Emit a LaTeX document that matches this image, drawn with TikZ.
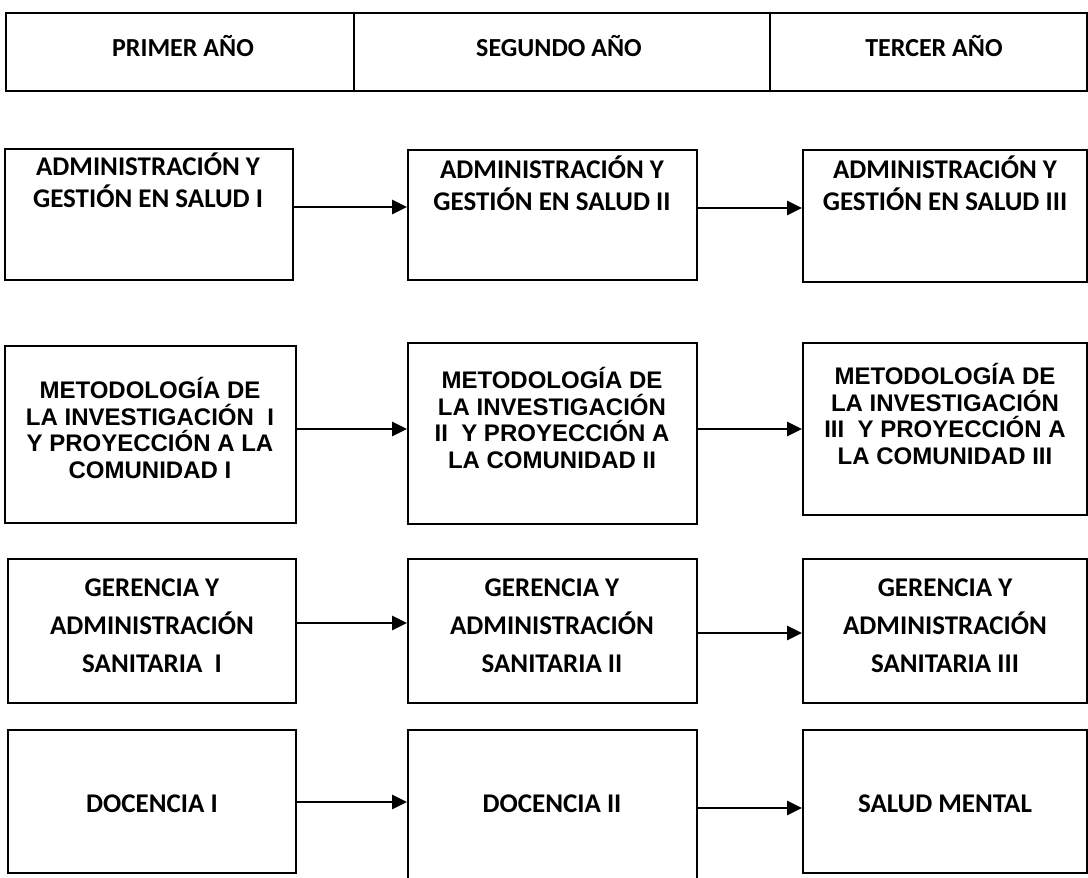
\documentclass[tikz,border=0pt]{standalone}
\usepackage{fontspec}
\newfontfamily\calfont{Carlito}
\newfontfamily\arfont{Liberation Sans}
\usetikzlibrary{arrows.meta}
\tikzset{
  box/.style={draw, line width=1.8pt, rectangle, inner sep=0pt},
  hbox/.style={draw, line width=2.4pt, rectangle, inner sep=0pt},
  htext/.style={inner sep=0pt, font=\calfont\bfseries\fontsize{26}{30}\selectfont},
  ctxtA/.style={inner sep=0pt, align=center, font=\calfont\bfseries\fontsize{27}{32}\selectfont},
  ctxtB/.style={inner sep=0pt, align=center, font=\calfont\bfseries\fontsize{27}{38}\selectfont},
  atxt/.style={inner sep=0pt, align=center, font=\arfont\bfseries\fontsize{24}{26.7}\selectfont},
  arr/.style={line width=2.4pt, -{Triangle[length=15pt,width=14pt]}}
}
\begin{document}
\begin{tikzpicture}[x=1pt,y=-1pt]
\useasboundingbox[fill=white] (0,0) rectangle (1088,878);
% header table
\node[hbox, minimum width=1081pt, minimum height=78pt] (hdr) at (546.5,52) {};
\draw[line width=1.8pt] (hdr.north -| 354,0) -- (hdr.south -| 354,0);
\draw[line width=1.8pt] (hdr.north -| 770,0) -- (hdr.south -| 770,0);
\node[htext] (h1) at (183,46) {PRIMER AÑO};
\node[htext] (h2) at (559,46) {SEGUNDO AÑO};
\node[htext] (h3) at (934,46) {TERCER AÑO};
% row 1
\node[box, minimum width=288pt, minimum height=131pt] (b11) at (149,214.5) {};
\node[box, minimum width=289pt, minimum height=130pt] (b12) at (552.5,215) {};
\node[box, minimum width=284pt, minimum height=132pt] (b13) at (945,216) {};
\node[ctxtA] (t11) at (148,180) {ADMINISTRACIÓN Y\\GESTIÓN EN SALUD I};
\node[ctxtA] (t12) at (552,183) {ADMINISTRACIÓN Y\\GESTIÓN EN SALUD II};
\node[ctxtA] (t13) at (945,183) {ADMINISTRACIÓN Y\\GESTIÓN EN SALUD III};
\draw[arr] (b11.east |- 0,207) -- (b12.west |- 0,207);
\draw[arr] (b12.east |- 0,208) -- (b13.west |- 0,208);
% row 2
\node[box, minimum width=291pt, minimum height=177pt] (b21) at (150.5,434.5) {};
\node[box, minimum width=289pt, minimum height=181pt] (b22) at (552.5,433.5) {};
\node[box, minimum width=284pt, minimum height=172pt] (b23) at (945,429) {};
\node[atxt] (t21) at (150,428) {METODOLOGÍA DE\\LA INVESTIGACIÓN\ \ I\\Y PROYECCIÓN A LA\\COMUNIDAD I};
\node[atxt] (t22) at (552,418) {METODOLOGÍA DE\\LA INVESTIGACIÓN\\II\ \ Y PROYECCIÓN A\\LA COMUNIDAD II};
\node[atxt] (t23) at (945,414) {METODOLOGÍA DE\\LA INVESTIGACIÓN\\III\ \ Y PROYECCIÓN A\\LA COMUNIDAD III};
\draw[arr] (b21.east |- 0,429) -- (b22.west |- 0,429);
\draw[arr] (b22.east |- 0,429) -- (b23.west |- 0,429);
% row 3
\node[box, minimum width=288pt, minimum height=144pt] (b31) at (152,631) {};
\node[box, minimum width=289pt, minimum height=144pt] (b32) at (552.5,631) {};
\node[box, minimum width=284pt, minimum height=144pt] (b33) at (945,631) {};
\node[ctxtB] (t31) at (152,626) {GERENCIA Y\\ADMINISTRACIÓN\\SANITARIA\ \ I};
\node[ctxtB] (t32) at (552,626) {GERENCIA Y\\ADMINISTRACIÓN\\SANITARIA II};
\node[ctxtB] (t33) at (945,626) {GERENCIA Y\\ADMINISTRACIÓN\\SANITARIA III};
\draw[arr] (b31.east |- 0,623) -- (b32.west |- 0,623);
\draw[arr] (b32.east |- 0,633) -- (b33.west |- 0,633);
% row 4
\node[box, minimum width=288pt, minimum height=143pt] (b41) at (152,801.5) {};
\node[box, minimum width=289pt, minimum height=152pt] (b42) at (552.5,806) {};
\node[box, minimum width=284pt, minimum height=143pt] (b43) at (945,801.5) {};
\node[ctxtA, anchor=base] (t41) at (152,812) {DOCENCIA I};
\node[ctxtA, anchor=base] (t42) at (552,812) {DOCENCIA II};
\node[ctxtA, anchor=base] (t43) at (945,812) {SALUD MENTAL};
\draw[arr] (b41.east |- 0,802) -- (b42.west |- 0,802);
\draw[arr] (b42.east |- 0,808) -- (b43.west |- 0,808);
\end{tikzpicture}
\end{document}
